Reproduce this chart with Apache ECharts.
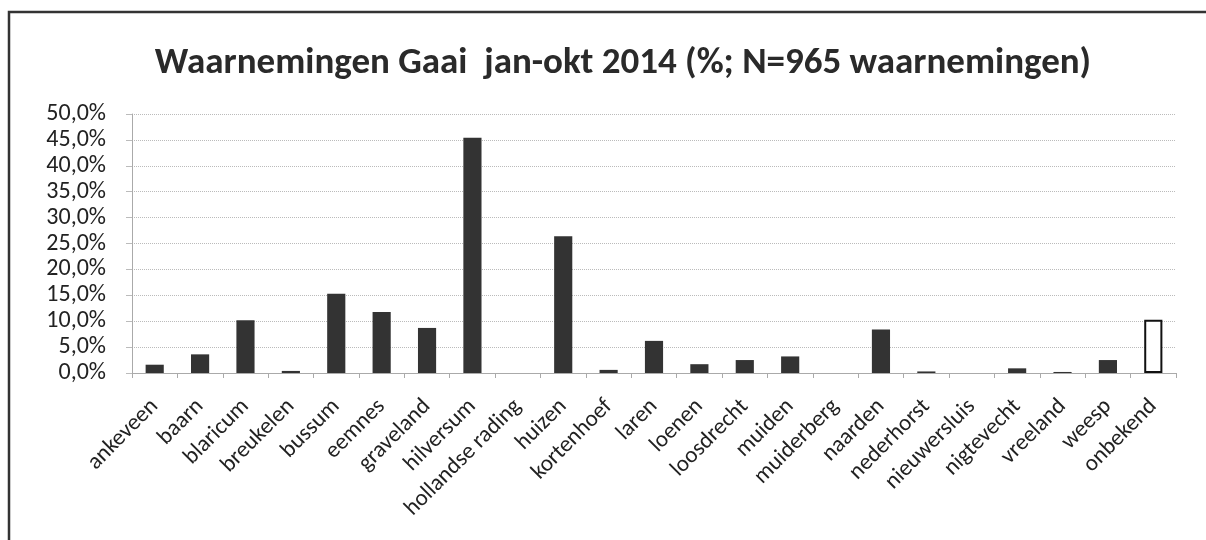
<!DOCTYPE html>
<html><head><meta charset="utf-8">
<script src="https://cdn.jsdelivr.net/npm/echarts@6/dist/echarts.min.js"></script>
<style>html,body{margin:0;padding:0;background:#fff}#c{width:1206px;height:540px}</style>
</head><body><div id="c"></div>
<script>
const categories = ["ankeveen","baarn","blaricum","breukelen","bussum","eemnes","graveland","hilversum","hollandse rading","huizen","kortenhoef","laren","loenen","loosdrecht","muiden","muiderberg","naarden","nederhorst","nieuwersluis","nigtevecht","vreeland","weesp","onbekend"];
const values = [1.6,3.6,10.2,0.4,15.3,11.8,8.7,45.4,0,26.4,0.6,6.2,1.7,2.5,3.2,0,8.4,0.3,0,0.9,0.2,2.5,10.3];
const highlightCategory = "onbekend";
const yTicks = {min:0, max:50, interval:5};
const titleText = "Waarnemingen Gaai  jan-okt 2014 (%; N=965 waarnemingen)";

const FONT = "Carlito, Calibri, Lato, 'Open Sans', sans-serif";
const chart = echarts.init(document.getElementById('c'), null, {renderer:'canvas'});
chart.setOption({
  animation:false,
  backgroundColor:'#fff',
  title:{text:titleText,left:618,top:40,textAlign:'center',
    textStyle:{fontFamily:FONT,fontSize:37,fontWeight:'bold',color:'#2a2a2a'}},
  graphic:[{type:'rect',shape:{x:9,y:12,width:1220,height:560},
    style:{fill:'none',stroke:'#333',lineWidth:2.5},silent:true}],
  grid:{left:132,right:30,top:114,bottom:167,containLabel:false},
  xAxis:{type:'category',data:categories,
    axisLine:{lineStyle:{color:'#aaa',width:1}},
    axisTick:{show:true,length:5,lineStyle:{color:'#aaa'},alignWithLabel:false},
    axisLabel:{rotate:45,fontFamily:FONT,fontSize:23,color:'#222',margin:30,interval:0}},
  yAxis:{type:'value',min:yTicks.min,max:yTicks.max,interval:yTicks.interval,
    axisLine:{show:true,lineStyle:{color:'#aaa'}},
    axisTick:{show:true,length:6,lineStyle:{color:'#bbb'}},
    splitLine:{lineStyle:{color:'#bbb',type:'dotted',width:1}},
    axisLabel:{fontFamily:FONT,fontSize:24,color:'#222',margin:26,
      formatter:v=>v.toFixed(1).replace('.',',')+'%'}},
  series:[{type:'bar',barCategoryGap:'60%',
    data:values.map((v,i)=>categories[i]===highlightCategory
      ? {value:v,itemStyle:{color:'#fff',borderColor:'#111',borderWidth:2}}
      : {value:v,itemStyle:{color:'#333',borderWidth:0}})}]
});
</script></body></html>
